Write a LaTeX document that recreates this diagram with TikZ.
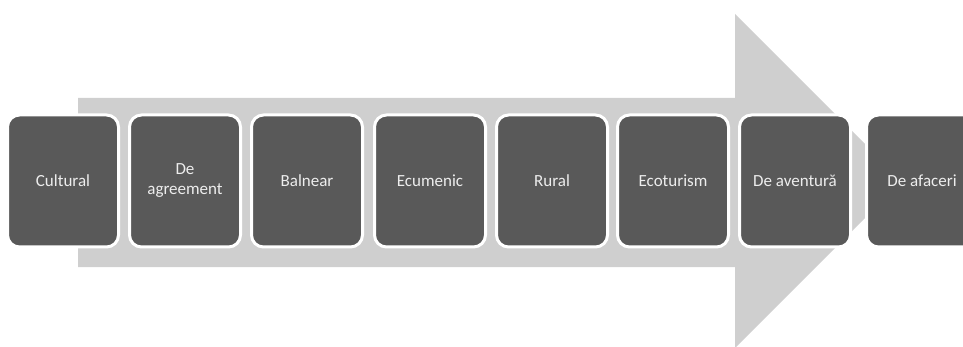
\documentclass[tikz,border=0pt]{standalone}
\usepackage{fontspec}
\setmainfont{Carlito}
\usetikzlibrary{calc}
\definecolor{arrowgray}{HTML}{CFCFCF}
\definecolor{boxgray}{HTML}{595959}
\definecolor{textgray}{HTML}{EDEDED}

\begin{document}
\begin{tikzpicture}[
    kind/.style={draw=white, line width=3pt, fill=boxgray, rounded corners=12pt,
        minimum width=111pt, minimum height=132pt, inner sep=2pt,
        text=textgray, align=center, font=\fontsize{17}{20}\selectfont},
    x=1pt, y=-1pt]

    \useasboundingbox (0,0) rectangle (963,347);

    % ================= the big arrow behind =================
    \fill[arrowgray] (78,98) -- (735,98) -- (735,14) -- (902,181)
        -- (735,348) -- (735,267) -- (78,267) -- cycle;

    % ================= the kinds of tourism =================
    \node[kind] (cultural)   at (63, 181)  {Cultural};
    \node[kind] (agreement)  at (185, 181) {De\\agreement};
    \node[kind] (balnear)    at (307, 181) {Balnear};
    \node[kind] (ecumenic)   at (430, 181) {Ecumenic};
    \node[kind] (rural)      at (552, 181) {Rural};
    \node[kind] (ecoturism)  at (673, 181) {Ecoturism};
    \node[kind] (aventura)   at (795, 181) {De aventură};
    \node[kind] (afaceri)    at (922, 181) {De afaceri};
\end{tikzpicture}
\end{document}
